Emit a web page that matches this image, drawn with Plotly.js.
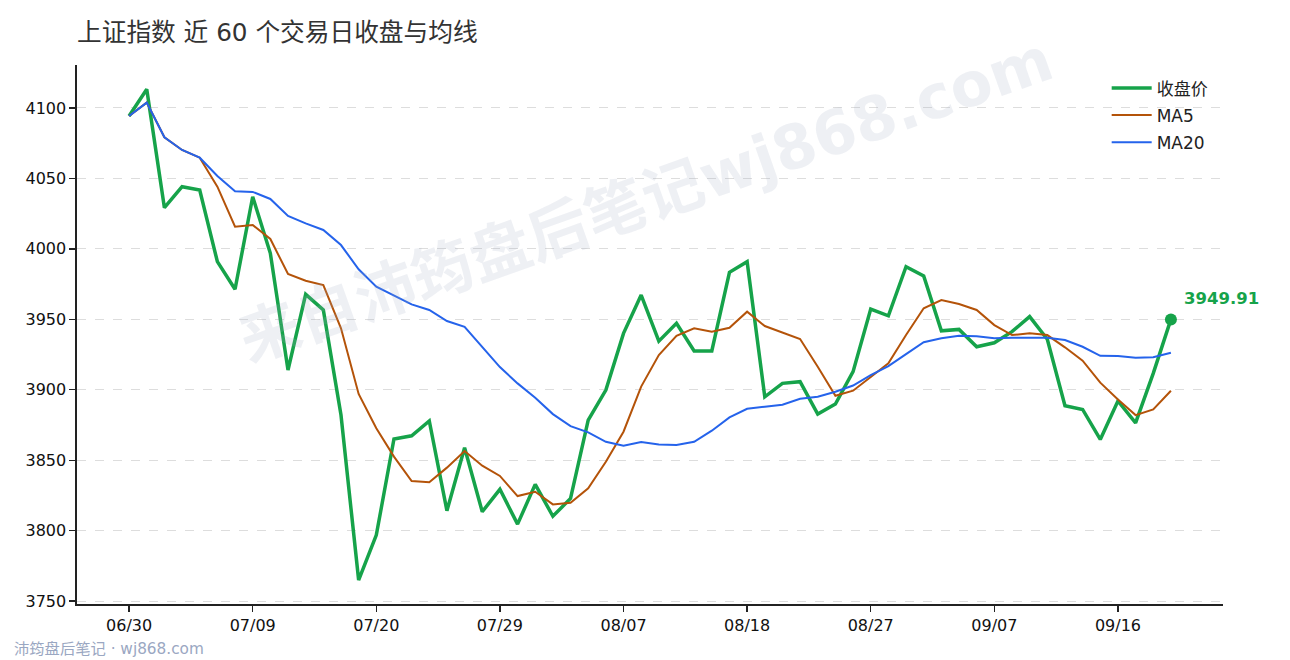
<!DOCTYPE html>
<html>
<head>
<meta charset="utf-8">
<script src="https://cdn.plot.ly/plotly-3.0.1.min.js"></script>
<style>
  html, body { margin: 0; padding: 0; background: #ffffff; }
  #chart { width: 1290px; height: 660px; }
</style>
</head>
<body>
<div id="chart"></div>
<script>
const dates = [
  "06/30","07/01","07/02","07/03","07/06","07/07","07/08","07/09","07/10","07/13",
  "07/14","07/15","07/16","07/17","07/20","07/21","07/22","07/23","07/24","07/27",
  "07/28","07/29","07/30","07/31","08/03","08/04","08/05","08/06","08/07","08/10",
  "08/11","08/12","08/13","08/14","08/17","08/18","08/19","08/20","08/21","08/24",
  "08/25","08/26","08/27","08/28","08/31","09/01","09/02","09/03","09/04","09/07",
  "09/08","09/09","09/10","09/11","09/14","09/15","09/16","09/17","09/18","09/21"
];

const closeValues = [
  4094.3, 4113.3, 4029.2, 4044.1, 4041.8, 3990.9, 3971.3, 4037.0, 3996.8, 3914.0,
  3967.7, 3956.6, 3882.0, 3764.9, 3796.8, 3865.0, 3867.3, 3877.8, 3814.1, 3858.8,
  3813.4, 3829.3, 3804.6, 3832.8, 3810.2, 3822.8, 3878.4, 3899.8, 3940.0, 3967.2,
  3934.5, 3947.1, 3927.5, 3927.5, 3983.3, 3990.9, 3895.0, 3904.5, 3905.7, 3882.7,
  3889.8, 3912.8, 3957.3, 3952.5, 3987.3, 3980.7, 3941.8, 3942.8, 3930.5, 3933.3,
  3941.2, 3951.9, 3935.8, 3888.6, 3886.0, 3864.7, 3892.0, 3876.5, 3911.6, 3949.91
];

const ma5Values = [
  4094.3, 4103.8, 4079.2, 4070.2, 4064.7, 4044.1, 4015.7, 4016.9, 4007.0, 3982.1,
  3977.4, 3974.3, 3943.6, 3897.0, 3872.6, 3852.5, 3835.2, 3834.3, 3844.7, 3856.5,
  3846.1, 3838.8, 3824.5, 3827.6, 3818.6, 3819.8, 3830.0, 3848.9, 3870.2, 3902.2,
  3924.6, 3938.3, 3943.6, 3941.2, 3944.0, 3955.4, 3945.2, 3940.7, 3936.0, 3916.3,
  3895.7, 3899.3, 3908.8, 3918.7, 3938.8, 3957.8, 3963.7, 3960.8, 3956.6, 3945.9,
  3938.8, 3940.0, 3938.8, 3930.1, 3920.6, 3905.0, 3893.1, 3882.0, 3886.0, 3899.3
];

const ma20Values = [
  4094.3, 4103.8, 4079.2, 4070.2, 4064.7, 4051.7, 4040.9, 4040.4, 4035.4, 4023.3,
  4018.1, 4013.4, 4002.7, 3985.5, 3973.1, 3966.7, 3960.6, 3956.6, 3948.8, 3944.7,
  3930.0, 3916.1, 3904.5, 3894.3, 3882.7, 3874.2, 3869.7, 3863.0, 3860.2, 3862.8,
  3861.2, 3860.7, 3863.0, 3870.9, 3880.4, 3886.5, 3887.9, 3889.4, 3893.6, 3895.0,
  3898.6, 3903.0, 3910.4, 3916.8, 3925.3, 3933.7, 3936.5, 3938.3, 3937.9, 3936.5,
  3936.9, 3936.9, 3936.9, 3935.3, 3930.5, 3924.1, 3923.9, 3922.7, 3923.0, 3926.3
];

const tickDates = ["06/30","07/09","07/20","07/29","08/07","08/18","08/27","09/07","09/16"];
const yTicks = [3750, 3800, 3850, 3900, 3950, 4000, 4050, 4100];

const seriesNames = ["收盘价", "MA5", "MA20"];
const colors = { close: "#16a34a", ma5: "#b45309", ma20: "#2563eb" };

const FONT = '"DejaVu Sans", "Noto Sans CJK SC", sans-serif';

const lastIdx = dates.length - 1;
const lastDate = dates[lastIdx];
const lastClose = closeValues[lastIdx];

const traces = [
  {
    x: dates, y: closeValues, type: "scatter", mode: "lines",
    name: seriesNames[0], legendgroup: "g1",
    line: { color: colors.close, width: 3.5 }
  },
  {
    x: dates, y: ma5Values, type: "scatter", mode: "lines",
    name: seriesNames[1], legendgroup: "g2",
    line: { color: colors.ma5, width: 2 }
  },
  {
    x: dates, y: ma20Values, type: "scatter", mode: "lines",
    name: seriesNames[2], legendgroup: "g3",
    line: { color: colors.ma20, width: 2 }
  },
  {
    x: [lastDate], y: [lastClose], type: "scatter", mode: "markers",
    showlegend: false, hoverinfo: "skip",
    marker: { color: colors.close, size: 12 }
  }
];

const layout = {
  width: 1290, height: 660,
  margin: { l: 77, r: 67, t: 65, b: 56 },
  paper_bgcolor: "#ffffff",
  plot_bgcolor: "rgba(0,0,0,0)",
  font: { family: FONT, size: 16, color: "#222222" },
  title: {
    text: "上证指数 近 60 个交易日收盘与均线",
    font: { family: FONT, size: 24.7, color: "#333333" },
    x: 0, xref: "paper", xanchor: "left",
    y: 37, yref: "container", yanchor: "middle"
  },
  xaxis: {
    type: "category",
    categoryorder: "array", categoryarray: dates,
    range: [-2.95, lastIdx + 2.95],
    tickmode: "array", tickvals: tickDates, ticktext: tickDates,
    showgrid: false, zeroline: false,
    showline: true, linecolor: "#222222", linewidth: 1.6,
    ticks: "outside", ticklen: 6, tickwidth: 1.3, tickcolor: "#222222",
    tickfont: { family: FONT, size: 16, color: "#111111" }
  },
  yaxis: {
    range: [3747.9, 4130.5],
    tickmode: "array", tickvals: yTicks,
    showgrid: true, gridcolor: "#dddddd", griddash: "dash", gridwidth: 1,
    zeroline: false,
    showline: true, linecolor: "#222222", linewidth: 1.6,
    ticks: "outside", ticklen: 6, tickwidth: 1.3, tickcolor: "#222222",
    tickfont: { family: FONT, size: 16, color: "#111111" }
  },
  legend: {
    x: 0.8985, xanchor: "left", y: 0.99, yanchor: "top",
    bgcolor: "rgba(255,255,255,0)",
    font: { family: FONT, size: 17, color: "#222222" },
    itemwidth: 40,
    tracegroupgap: 2
  },
  annotations: [
    {
      text: "<b>来自沛筠盘后笔记wj868.com</b>",
      xref: "paper", yref: "paper", x: 0.496, y: 0.75,
      xanchor: "center", yanchor: "middle",
      showarrow: false, textangle: -19.5,
      font: { family: FONT, size: 61, color: "rgba(160,170,195,0.18)" }
    },
    {
      text: "<b>" + lastClose.toFixed(2) + "</b>",
      x: lastDate, y: lastClose, xref: "x", yref: "y",
      showarrow: false, xanchor: "left", yanchor: "bottom",
      xshift: 11, yshift: 9,
      font: { family: FONT, size: 16.5, color: colors.close }
    },
    {
      text: "沛筠盘后笔记 · wj868.com",
      xref: "paper", yref: "paper", x: -0.0565, y: -0.083,
      xanchor: "left", yanchor: "middle", showarrow: false,
      font: { family: FONT, size: 15.3, color: "#9aa7c2" }
    }
  ]
};

Plotly.newPlot("chart", traces, layout, { displayModeBar: false, staticPlot: true });
</script>
</body>
</html>
